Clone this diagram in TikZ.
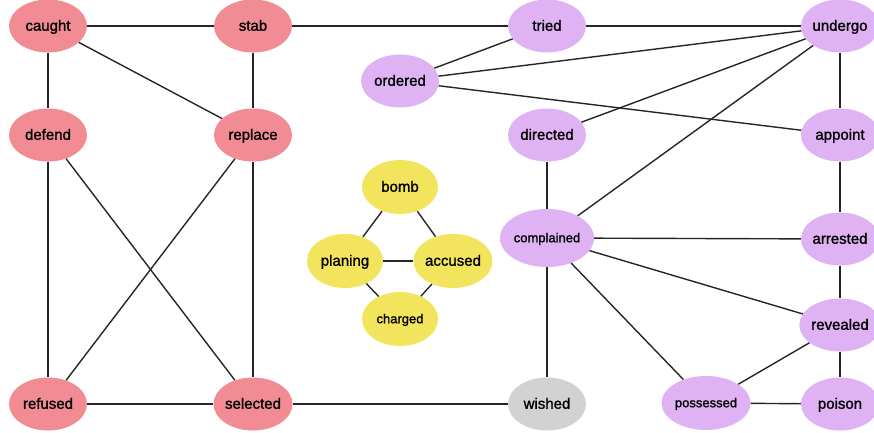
\documentclass[tikz,border=0pt]{standalone}
\usepackage{fontspec}
\setmainfont{Liberation Sans}[BoldFont=Liberation Sans, BoldFeatures={FakeBold=1.3}]
\usetikzlibrary{shapes.geometric}
\definecolor{pinkv}{RGB}{242,140,148}
\definecolor{purplev}{RGB}{222,178,243}
\definecolor{yellowv}{RGB}{242,228,92}
\definecolor{grayv}{RGB}{210,210,210}
\begin{document}
\begin{tikzpicture}[x=1pt,y=-1pt]

      \tikzset{word/.style={ellipse, inner sep=0pt, minimum width=78pt, minimum height=53pt, text height=12.5pt, text depth=3pt, font=\fontsize{15}{18}\selectfont\bfseries},
               wide/.style={word, minimum width=89pt, minimum height=58pt, text height=11pt, text depth=2.5pt, font=\fontsize{13}{16}\selectfont\bfseries},
               small/.style={word, minimum width=76pt, minimum height=54pt},
               every edge/.style={draw, line width=1.4pt, black!85}}
      \useasboundingbox (0,0) rectangle (874,432);
%% Vertices
      	\node[word, fill=pinkv] (caught) at (48,26) {caught};
      	\node[word, fill=pinkv] (stab) at (253,26) {stab};
      	\node[word, fill=pinkv] (defend) at (48,135) {defend};
      	\node[word, fill=pinkv] (replace) at (253,135) {replace};
      	\node[word, fill=pinkv] (refused) at (48,404) {refused};
      	\node[word, fill=pinkv] (selected) at (253,404) {selected};

      	\node[small, fill=yellowv] (bomb) at (400,187) {bomb};
      	\node[small, fill=yellowv] (planing) at (345,261) {planing};
      	\node[small, fill=yellowv] (accused) at (453,261) {accused};
      	\node[small, fill=yellowv, text height=11pt, text depth=2.5pt, font=\fontsize{13}{16}\selectfont\bfseries] (charged) at (400,319) {charged};

      	\node[word, fill=purplev] (tried) at (547,26) {tried};
      	\node[word, fill=purplev] (ordered) at (400,81) {ordered};
      	\node[word, fill=purplev] (undergo) at (840,26) {undergo};
      	\node[word, fill=purplev] (directed) at (547,135) {directed};
      	\node[word, fill=purplev] (appoint) at (840,135) {appoint};
      	\node[wide, fill=purplev] (complained) at (547,238) {complained};
      	\node[word, fill=purplev] (arrested) at (840,239) {arrested};
      	\node[word, fill=purplev] (revealed) at (840,325) {revealed};
      	\node[wide, fill=purplev, minimum height=54pt] (possessed) at (706,403) {possessed};
      	\node[word, fill=purplev] (poison) at (840,404) {poison};
      	\node[word, fill=grayv] (wished) at (547,404) {wished};
%Edges
		\path (caught) edge (stab);
		\path (caught) edge (defend);
		\path (caught) edge (replace);
		\path (stab) edge (replace);
		\path (stab) edge (tried);
		\path (defend) edge (refused);
		\path (defend) edge (selected);
		\path (replace) edge (refused);
		\path (replace) edge (selected);
		\path (refused) edge (selected);
		\path (selected) edge (wished);

		\path (bomb) edge (planing);
		\path (bomb) edge (accused);
		\path (planing) edge (accused);
		\path (planing) edge (charged);
		\path (accused) edge (charged);

		\path (tried) edge (undergo);
		\path (tried) edge (ordered);
		\path (ordered) edge (undergo);
		\path (ordered) edge (appoint);
		\path (directed) edge (undergo);
		\path (complained) edge (undergo);
		\path (undergo) edge (appoint);
		\path (directed) edge (complained);
		\path (complained) edge (arrested);
		\path (complained) edge (revealed);
		\path (complained) edge (possessed);
		\path (complained) edge (wished);
		\path (appoint) edge (arrested);
		\path (arrested) edge (revealed);
		\path (revealed) edge (possessed);
		\path (revealed) edge (poison);
		\path (possessed) edge (poison);

	\end{tikzpicture}
\end{document}
